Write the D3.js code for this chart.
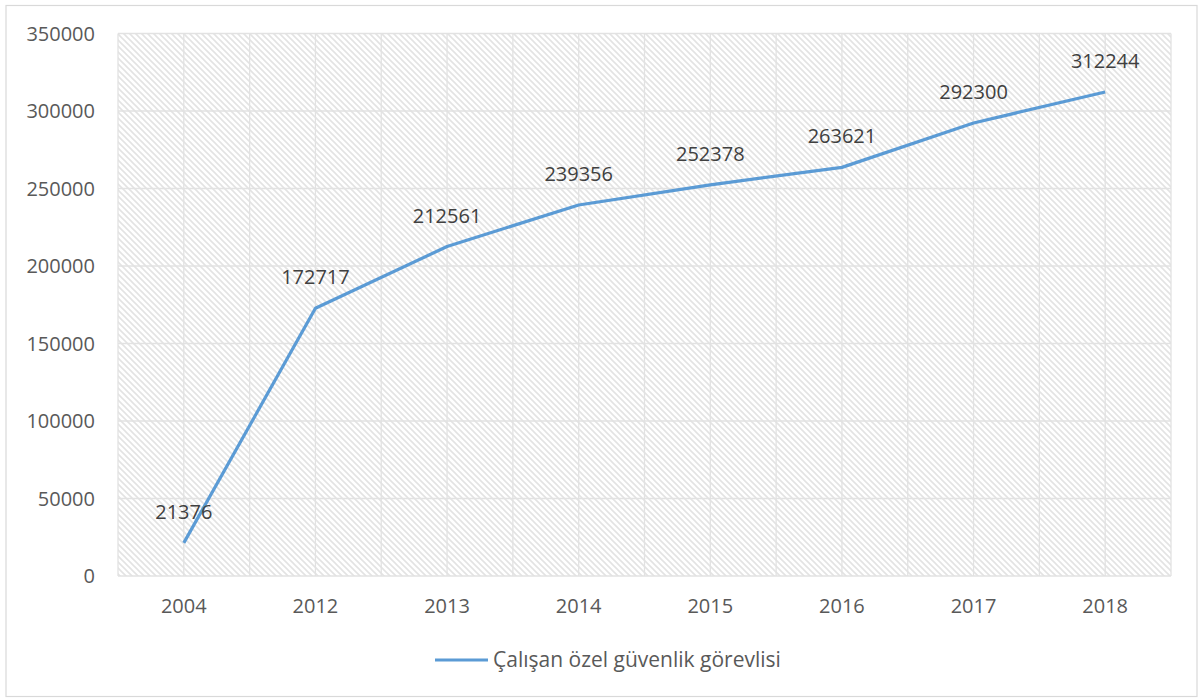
<!DOCTYPE html>
<html>
<head>
<meta charset="utf-8">
<script src="https://cdn.jsdelivr.net/npm/d3@7"></script>
<style>
  body { margin: 0; background: #fff; }
  svg text { font-family: "Open Sans", "Noto Sans", sans-serif; }
</style>
</head>
<body>
<div id="chart"></div>
<script>
const years = ["2004", "2012", "2013", "2014", "2015", "2016", "2017", "2018"];
const guards = [21376, 172717, 212561, 239356, 252378, 263621, 292300, 312244];
const yTicks = [0, 50000, 100000, 150000, 200000, 250000, 300000, 350000];
const seriesName = "Çalışan özel güvenlik görevlisi";

const width = 1203, height = 700;
const plot = {left: 118, right: 1171, top: 33.5, bottom: 576};

let svg = d3.select("#chart").append("svg")
    .attr("width", width)
    .attr("height", height);

// hatch fill for the plot area
let defs = svg.append("defs");
let pat = defs.append("pattern")
    .attr("id", "hatch")
    .attr("patternUnits", "userSpaceOnUse")
    .attr("width", 6)
    .attr("height", 6);
pat.append("path")
    .attr("d", "M0,0 L6,6 M-1,5 L1,7 M5,-1 L7,1")
    .attr("stroke", "#e3e3e3")
    .attr("stroke-width", 1.6);

// outer border
svg.append("rect")
    .attr("x", 6).attr("y", 5.5)
    .attr("width", 1191).attr("height", 691)
    .attr("fill", "#fff")
    .attr("stroke", "#d9d9d9")
    .attr("stroke-width", 1.2);

let x = d3.scalePoint()
    .domain(years)
    .range([plot.left, plot.right])
    .padding(0.5);

let y = d3.scaleLinear()
    .domain([0, 350000])
    .range([plot.bottom, plot.top]);

svg.append("rect")
    .attr("x", plot.left).attr("y", plot.top)
    .attr("width", plot.right - plot.left)
    .attr("height", plot.bottom - plot.top)
    .attr("fill", "url(#hatch)");

// horizontal gridlines
svg.append("g")
    .selectAll("line")
    .data(yTicks)
    .enter().append("line")
    .attr("x1", plot.left).attr("x2", plot.right)
    .attr("y1", d => y(d)).attr("y2", d => y(d))
    .attr("stroke", "#e2e2e2")
    .attr("stroke-width", 1.3);

// vertical gridlines: category edges and centres
let half = x.step() / 2;
let vLines = d3.range(years.length * 2 + 1).map(i => plot.left + i * half);
svg.append("g")
    .selectAll("line")
    .data(vLines)
    .enter().append("line")
    .attr("x1", d => d).attr("x2", d => d)
    .attr("y1", plot.top).attr("y2", plot.bottom)
    .attr("stroke", "#e2e2e2")
    .attr("stroke-width", 1.3);

// y axis labels
svg.append("g")
    .selectAll("text")
    .data(yTicks)
    .enter().append("text")
    .attr("x", 95)
    .attr("y", d => y(d))
    .attr("dy", "0.35em")
    .attr("text-anchor", "end")
    .attr("font-size", 20)
    .attr("fill", "#595959")
    .text(d => d);

// x axis labels
svg.append("g")
    .selectAll("text")
    .data(years)
    .enter().append("text")
    .attr("x", d => x(d))
    .attr("y", 606)
    .attr("dy", "0.35em")
    .attr("text-anchor", "middle")
    .attr("font-size", 20)
    .attr("fill", "#595959")
    .text(d => d);

// line
let line = d3.line()
    .x((d, i) => x(years[i]))
    .y(d => y(d));

svg.append("path")
    .datum(guards)
    .attr("d", line)
    .attr("fill", "none")
    .attr("stroke", "#5b9bd5")
    .attr("stroke-width", 3.2)
    .attr("stroke-linejoin", "round");

// data labels
svg.append("g")
    .selectAll("text")
    .data(guards)
    .enter().append("text")
    .attr("x", (d, i) => x(years[i]))
    .attr("y", d => y(d) - 31)
    .attr("dy", "0.35em")
    .attr("text-anchor", "middle")
    .attr("font-size", 20)
    .attr("fill", "#404040")
    .text(d => d);

// legend
let legend = svg.append("g").attr("transform", "translate(435,660)");
legend.append("line")
    .attr("x1", 0).attr("x2", 53)
    .attr("y1", 0).attr("y2", 0)
    .attr("stroke", "#5b9bd5")
    .attr("stroke-width", 3.2);
legend.append("text")
    .attr("x", 58)
    .attr("y", 0)
    .attr("dy", "0.35em")
    .attr("font-size", 21)
    .attr("fill", "#595959")
    .text(seriesName);
</script>
</body>
</html>
